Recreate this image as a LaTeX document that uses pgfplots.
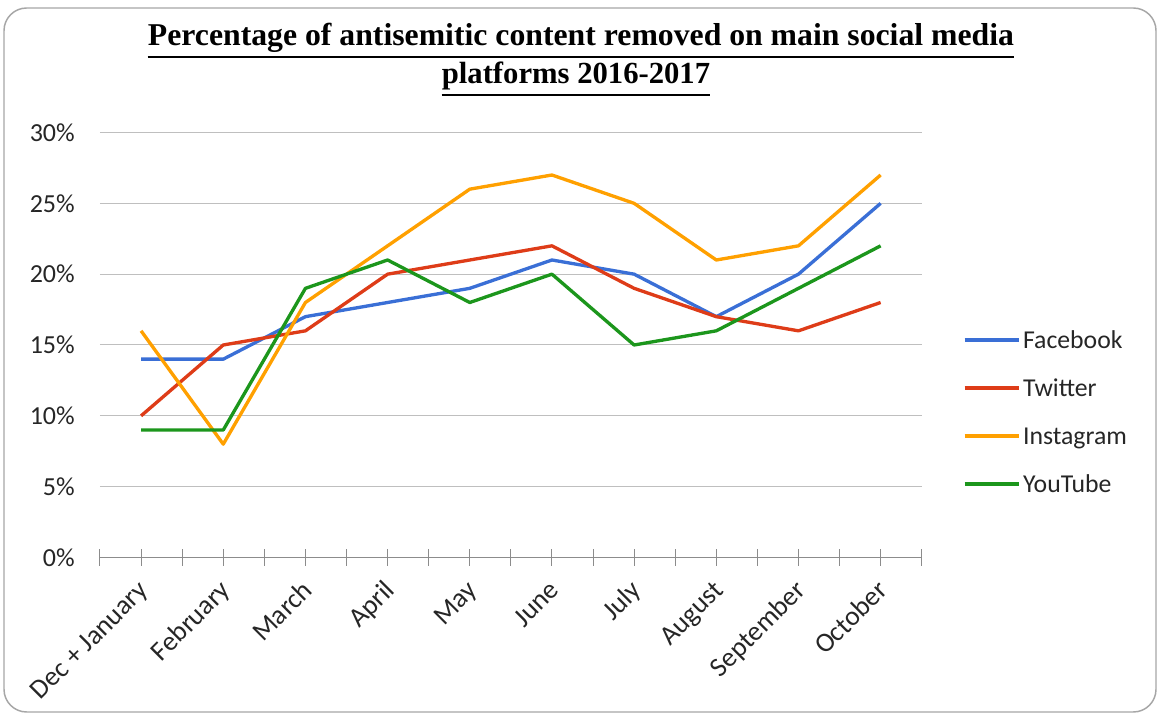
\documentclass[border=0pt]{standalone}
\usepackage{fontspec}
\setmainfont{Carlito}
\newfontfamily\titlefont{Liberation Serif}
\usepackage{pgfplots}
\pgfplotsset{compat=1.18}

\definecolor{fbblue}{HTML}{3A6FD6}
\definecolor{twred}{HTML}{DE3C18}
\definecolor{igorange}{HTML}{FFA000}
\definecolor{ytgreen}{HTML}{1C961C}
\definecolor{gridgray}{HTML}{BFBFBF}
\definecolor{axisgray}{HTML}{8C8C8C}
\definecolor{framegray}{HTML}{A6A6A6}

\begin{document}
\begin{tikzpicture}[x=0.75pt,y=0.75pt]
\useasboundingbox (0,0) rectangle (1158,715);
% chart frame
\draw[framegray, line width=1.1pt, rounded corners=17pt] (4,3) rectangle (1156,707);

% title, two underlined lines
\node[inner sep=0pt, anchor=base, font=\titlefont\bfseries\fontsize{23.8}{28}\selectfont]
  (t1) at (581,669) {Percentage of antisemitic content removed on main social media\ };
\draw[line width=2pt] ([yshift=-8.25pt]t1.base west) -- ([yshift=-8.25pt]t1.base east);
\node[inner sep=0pt, anchor=base, font=\titlefont\bfseries\fontsize{23}{28}\selectfont]
  (t2) at (576,631) {platforms 2016-2017};
\draw[line width=1.8pt] ([yshift=-8.25pt]t2.base west) -- ([yshift=-8.25pt]t2.base east);

\begin{axis}[
    at={(75pt,118.125pt)}, anchor=south west,
    scale only axis,
    width=616.3pt, height=318.75pt,
    xmin=0.5, xmax=10.5,
    ymin=0, ymax=30,
    axis x line*=bottom,
    axis y line*=left,
    x axis line style={axisgray, line width=0.75pt},
    y axis line style={draw=none},
    xtick={1,...,10},
    xticklabels={Dec + January,February,March,April,May,June,July,August,September,October},
    extra x ticks={0.5,1.5,...,10.5},
    extra x tick labels={},
    extra x tick style={grid=none},
    ytick={0,5,...,30},
    yticklabel={\pgfmathprintnumber{\tick}\%},
    ymajorgrids,
    grid style={gridgray, line width=0.75pt},
    tick align=center,
    major tick length=12pt,
    x tick style={axisgray, line width=0.75pt},
    y tick style={draw=none},
    /pgf/number format/assume math mode=true,
    tick label style={font=\fontsize{19.5}{23}\selectfont, text=black!85},
    xticklabel style={font=\fontsize{20.5}{24}\selectfont, inner sep=0pt, anchor=base east,
        xshift=6.5pt, yshift=-19.75pt, rotate=45},
    yticklabel style={inner sep=0pt, anchor=east, xshift=-12.75pt},
    legend cell align=left,
    legend style={draw=none, fill=none, inner sep=0pt, outer sep=0pt,
        at={(axis description cs:1.0503,0.543)}, anchor=north west,
        font=\fontsize{19.3}{23}\selectfont, text=black!85,
        row sep=16pt, column sep=2pt,
        nodes={inner sep=0pt, text height=16pt, text depth=4pt}},
    legend image code/.code={\draw[#1] (0pt,0pt) -- (40.5pt,0pt);},
    every axis plot/.append style={line width=2.5pt, line join=round},
]
\addplot[fbblue] coordinates {
    (1,14) (2,14) (3,17) (4,18) (5,19) (6,21) (7,20) (8,17) (9,20) (10,25)
};
\addlegendentry{Facebook}
\addplot[twred] coordinates {
    (1,10) (2,15) (3,16) (4,20) (5,21) (6,22) (7,19) (8,17) (9,16) (10,18)
};
\addlegendentry{Twitter}
\addplot[igorange] coordinates {
    (1,16) (2,8) (3,18) (4,22) (5,26) (6,27) (7,25) (8,21) (9,22) (10,27)
};
\addlegendentry{Instagram}
\addplot[ytgreen] coordinates {
    (1,9) (2,9) (3,19) (4,21) (5,18) (6,20) (7,15) (8,16) (9,19) (10,22)
};
\addlegendentry{YouTube}
\end{axis}
\end{tikzpicture}
\end{document}
